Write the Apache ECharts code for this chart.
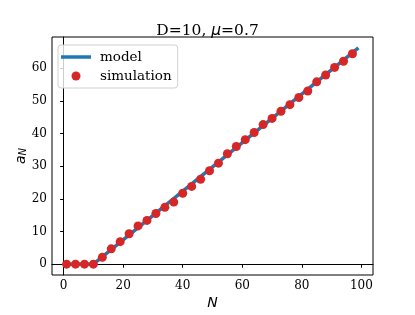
<!DOCTYPE html>
<html>
<head>
<meta charset="utf-8">
<script src="https://cdn.jsdelivr.net/npm/echarts@6/dist/echarts.min.js"></script>
<style>html,body{margin:0;padding:0;background:#fff}#c{width:415px;height:315px}</style>
</head>
<body>
<div id="c"></div>
<script>
// Simulation points (N, a_N)
const simN = [1,4,7,10,13,16,19,22,25,28,31,34,37,40,43,46,49,52,55,58,61,64,67,70,73,76,79,82,85,88,91,94,97];
const simA = [0,0,0,0,2.1,4.7,6.9,9.3,11.7,13.4,15.5,17.4,19.0,21.7,23.8,26.0,28.6,30.9,33.8,36.0,38.1,40.3,42.7,44.6,46.8,48.8,51.0,53.0,55.8,57.9,60.2,62.1,64.4];
// Model curve knots (N, a_N)
const modelN = [1,10,99];
const modelA = [0,0,66.2];
const xTicks = [0,20,40,60,80,100];
const yTicks = [0,10,20,30,40,50,60];

const serif = 'DejaVu Serif';
const math = 'DejaVu Sans';
const chart = echarts.init(document.getElementById('c'), null, {renderer:'canvas'});
chart.setOption({
  animation:false,
  backgroundColor:'#fff',
  title:{
    text:'D=10, {i|μ}=0.7',
    left:'center', top:18,
    textStyle:{fontFamily:serif,fontSize:15.5,fontWeight:'normal',color:'#000',
      rich:{i:{fontFamily:math,fontStyle:'italic',fontSize:15.5,color:'#000'}}}
  },
  legend:{
    left:58, top:45, orient:'vertical',
    padding:[5,6,5,3],
    itemWidth:30, itemHeight:9, itemGap:5,
    symbolKeepAspect:true,
    borderColor:'#d0d0d0', borderWidth:1, borderRadius:3,
    backgroundColor:'rgba(255,255,255,0.8)',
    textStyle:{fontFamily:serif,fontSize:13.5,color:'#000',padding:[0,0,0,4]},
    data:[{name:'model',icon:'path://M0 0H30V3.5H0Z'},{name:'simulation',icon:'circle'}]
  },
  grid:{left:52,right:42,top:37,bottom:40,show:true,borderColor:'#000',borderWidth:1,backgroundColor:'transparent'},
  xAxis:{
    type:'value', min:-3.9, max:103.9,
    name:'N', nameLocation:'middle', nameGap:21, nameMoveOverlap:false,
    nameTextStyle:{fontFamily:math,fontStyle:'italic',fontSize:14,color:'#000'},
    axisLine:{show:true,lineStyle:{color:'#000',width:1}},
    axisTick:{show:true,length:3.5,lineStyle:{color:'#000'},customValues:xTicks},
    axisLabel:{fontFamily:serif,fontSize:12,color:'#000',margin:5,customValues:xTicks},
    splitLine:{show:false}
  },
  yAxis:{
    type:'value', min:-3.31, max:69.51,
    name:'{a|a}{s|N}', nameLocation:'middle', nameGap:24, nameRotate:90, nameMoveOverlap:false,
    nameTextStyle:{fontFamily:math,fontSize:14,color:'#000',
      rich:{a:{fontFamily:math,fontStyle:'italic',fontSize:14,color:'#000'},
            s:{fontFamily:math,fontStyle:'italic',fontSize:10,color:'#000',verticalAlign:'bottom',padding:[4,0,0,0]}}},
    axisLine:{show:true,lineStyle:{color:'#000',width:1}},
    axisTick:{show:true,length:3.5,lineStyle:{color:'#000'},customValues:yTicks},
    axisLabel:{fontFamily:serif,fontSize:12,color:'#000',margin:5,customValues:yTicks},
    splitLine:{show:false}
  },
  series:[
    {name:'model',type:'line',data:modelN.map((n,i)=>[n,modelA[i]]),
     showSymbol:false,lineStyle:{color:'#1f77b4',width:3.5},itemStyle:{color:'#1f77b4'},z:2},
    {name:'simulation',type:'scatter',data:simN.map((n,i)=>[n,simA[i]]),
     symbolSize:9,itemStyle:{color:'#d62728',opacity:1},z:3}
  ]
});
</script>
</body>
</html>
